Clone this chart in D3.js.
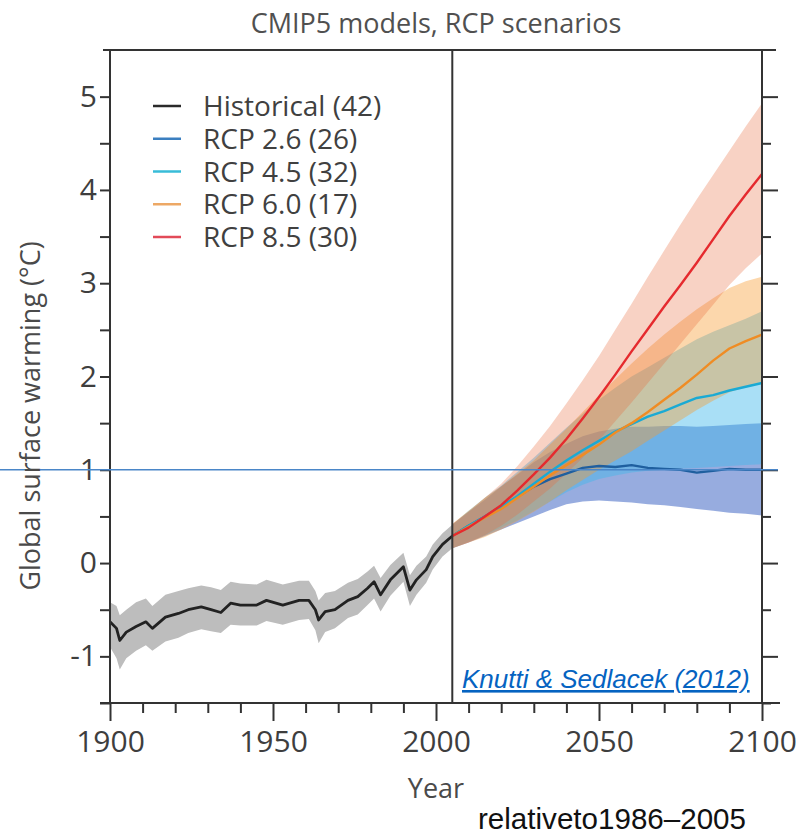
<!DOCTYPE html>
<html>
<head>
<meta charset="utf-8">
<script src="https://cdn.jsdelivr.net/npm/d3@7"></script>
<style>
  html, body { margin: 0; padding: 0; background: #fff; }
  svg { display: block; font-family: "Open Sans", sans-serif; }
</style>
</head>
<body>
<svg id="chart" width="798" height="837"></svg>
<script>
// ---- Historical multi-model mean and spread (°C, relative to 1986–2005) ----
const histYears = [1900, 1902, 1903, 1905, 1908, 1911, 1913, 1917, 1921, 1924, 1928, 1931, 1934, 1937, 1940,
  1945, 1948, 1953, 1958, 1961, 1963, 1964, 1966, 1969, 1973, 1976, 1979, 1981, 1983, 1986, 1990, 1992,
  1994, 1997, 1999, 2002, 2005];
const histMean = [-0.63, -0.70, -0.83, -0.74, -0.68, -0.63, -0.70, -0.58, -0.54, -0.50, -0.47, -0.50, -0.53, -0.43, -0.45,
  -0.45, -0.40, -0.45, -0.40, -0.40, -0.50, -0.61, -0.52, -0.50, -0.40, -0.36, -0.27, -0.20, -0.34, -0.18, -0.04, -0.29,
  -0.18, -0.07, 0.07, 0.20, 0.29];
const histLow = [-0.90, -1.02, -1.14, -1.02, -0.94, -0.88, -0.94, -0.84, -0.80, -0.75, -0.71, -0.73, -0.75, -0.66, -0.67,
  -0.67, -0.62, -0.66, -0.61, -0.60, -0.72, -0.86, -0.74, -0.70, -0.59, -0.55, -0.45, -0.38, -0.52, -0.35, -0.20, -0.46,
  -0.34, -0.21, -0.07, 0.07, 0.16];
const histHigh = [-0.42, -0.46, -0.56, -0.50, -0.42, -0.38, -0.46, -0.34, -0.30, -0.27, -0.24, -0.26, -0.29, -0.20, -0.22,
  -0.23, -0.18, -0.23, -0.19, -0.19, -0.30, -0.40, -0.32, -0.30, -0.21, -0.17, -0.09, -0.03, -0.16, -0.02, 0.11, -0.13,
  -0.03, 0.07, 0.20, 0.32, 0.41];

// ---- RCP scenario projections, 2005–2100 ----
const rcpYears = [2005, 2010, 2015, 2020, 2025, 2030, 2035, 2040, 2045, 2050, 2055, 2060, 2065, 2070, 2075, 2080, 2085, 2090, 2095, 2100];

const rcp26Mean = [0.29, 0.40, 0.50, 0.61, 0.71, 0.82, 0.90, 0.96, 1.02, 1.04, 1.03, 1.05, 1.02, 1.01, 1.00, 0.97, 0.99, 1.01, 1.00, 1.00];
const rcp26Low  = [0.16, 0.22, 0.29, 0.36, 0.43, 0.50, 0.57, 0.63, 0.66, 0.67, 0.66, 0.65, 0.63, 0.62, 0.60, 0.58, 0.56, 0.54, 0.53, 0.51];
const rcp26High = [0.41, 0.55, 0.68, 0.82, 0.95, 1.08, 1.19, 1.28, 1.36, 1.41, 1.44, 1.46, 1.46, 1.47, 1.47, 1.46, 1.47, 1.48, 1.49, 1.50];

const rcp45Mean = [0.29, 0.40, 0.50, 0.60, 0.72, 0.85, 0.98, 1.10, 1.21, 1.31, 1.41, 1.49, 1.57, 1.63, 1.70, 1.77, 1.80, 1.85, 1.89, 1.93];
const rcp45Low  = [0.16, 0.23, 0.30, 0.38, 0.46, 0.56, 0.66, 0.76, 0.84, 0.90, 0.94, 0.97, 0.99, 1.00, 1.01, 1.02, 1.03, 1.04, 1.05, 1.06];
const rcp45High = [0.41, 0.56, 0.70, 0.83, 0.98, 1.13, 1.29, 1.45, 1.60, 1.75, 1.88, 2.00, 2.10, 2.20, 2.30, 2.40, 2.48, 2.55, 2.62, 2.70];

const rcp60Mean = [0.29, 0.39, 0.49, 0.58, 0.70, 0.82, 0.94, 1.05, 1.16, 1.27, 1.40, 1.50, 1.62, 1.75, 1.88, 2.02, 2.17, 2.30, 2.38, 2.45];
const rcp60Low  = [0.16, 0.22, 0.28, 0.36, 0.45, 0.55, 0.66, 0.78, 0.89, 1.00, 1.10, 1.20, 1.31, 1.42, 1.53, 1.64, 1.74, 1.83, 1.89, 1.94];
const rcp60High = [0.42, 0.56, 0.70, 0.82, 0.96, 1.10, 1.27, 1.44, 1.62, 1.80, 1.97, 2.14, 2.30, 2.45, 2.59, 2.72, 2.84, 2.95, 3.02, 3.07];

const rcp85Mean = [0.29, 0.38, 0.50, 0.62, 0.78, 0.95, 1.13, 1.33, 1.55, 1.78, 2.02, 2.27, 2.51, 2.75, 2.98, 3.22, 3.47, 3.72, 3.95, 4.17];
const rcp85Low  = [0.16, 0.22, 0.30, 0.40, 0.52, 0.66, 0.80, 0.96, 1.13, 1.32, 1.52, 1.72, 1.93, 2.14, 2.35, 2.56, 2.77, 2.98, 3.16, 3.32];
const rcp85High = [0.42, 0.55, 0.70, 0.85, 1.04, 1.25, 1.47, 1.71, 1.96, 2.22, 2.50, 2.78, 3.07, 3.35, 3.63, 3.90, 4.16, 4.42, 4.68, 4.93];

// ---- Labels and ticks ----
const legendLabels = ["Historical (42)", "RCP 2.6 (26)", "RCP 4.5 (32)", "RCP 6.0 (17)", "RCP 8.5 (30)"];
const xMajorTicks = [1900, 1950, 2000, 2050, 2100];
const xMinorTicks = [1910, 1920, 1930, 1940, 1960, 1970, 1980, 1990, 2010, 2020, 2030, 2040, 2060, 2070, 2080, 2090];
const yMajorTicks = [-1, 0, 1, 2, 3, 4, 5];
const yMinorTicks = [-1.5, -0.5, 0.5, 1.5, 2.5, 3.5, 4.5];
const yTickLabels = ["-1", "0", "1", "2", "3", "4", "5"];
const scenarioStartYear = 2005;
const referenceLevel = 1;

const titleText = "CMIP5 models, RCP scenarios";
const xAxisTitle = "Year";
const yAxisTitle = "Global surface warming (°C)";
const citationText = "Knutti & Sedlacek (2012)";
const baselineNote = "relativeto1986–2005";

// ---- Styling ----
const lineColors = ["#222222", "#1f5f9f", "#1aaad4", "#ef8c24", "#e52a2e"];
const legendColors = ["#2a2a2a", "#3b7fc0", "#38bcd8", "#eda865", "#e24a58"];
const bandColors = ["#bdbdbd", "#1848b8", "#40b8ec", "#f79a30", "#e86a3a"];
const bandOpacities = [1, 0.45, 0.45, 0.4, 0.3];

// ---- Layout ----
const svg = d3.select("#chart");
const plotLeft = 110, plotRight = 762, plotTop = 50, plotBottom = 703;

const x = d3.scaleLinear().domain([1900, 2100]).range([plotLeft, plotRight]);
const y = d3.scaleLinear().domain([-1.5, 5.5]).range([plotBottom, plotTop]);

const plot = svg.append("g");

// historical spread
const histRows = histYears.map((yr, i) => ({ yr, m: histMean[i], lo: histLow[i], hi: histHigh[i] }));
const area = d3.area().x(d => x(d.yr)).y0(d => y(d.lo)).y1(d => y(d.hi));
const line = d3.line().x(d => x(d.yr)).y(d => y(d.m));

plot.append("path").datum(histRows).attr("d", area).attr("fill", bandColors[0]);

// scenario spreads: RCP 2.6 at the bottom of the stack, RCP 8.5 on top
const scenarios = [
  { mean: rcp26Mean, lo: rcp26Low, hi: rcp26High, idx: 1 },
  { mean: rcp45Mean, lo: rcp45Low, hi: rcp45High, idx: 2 },
  { mean: rcp60Mean, lo: rcp60Low, hi: rcp60High, idx: 3 },
  { mean: rcp85Mean, lo: rcp85Low, hi: rcp85High, idx: 4 }
].map(s => ({ ...s, rows: rcpYears.map((yr, i) => ({ yr, m: s.mean[i], lo: s.lo[i], hi: s.hi[i] })) }));

plot.selectAll("path.band").data(scenarios).join("path")
  .attr("class", "band")
  .attr("d", s => area(s.rows))
  .attr("fill", s => bandColors[s.idx])
  .attr("fill-opacity", s => bandOpacities[s.idx]);

plot.selectAll("path.mean").data(scenarios).join("path")
  .attr("class", "mean")
  .attr("d", s => line(s.rows))
  .attr("fill", "none")
  .attr("stroke", s => lineColors[s.idx])
  .attr("stroke-width", 2.4)
  .attr("stroke-linejoin", "round");

plot.append("path").datum(histRows).attr("d", line)
  .attr("fill", "none").attr("stroke", lineColors[0])
  .attr("stroke-width", 2.8).attr("stroke-linejoin", "round");

// ---- Frame and axes ----
const axisColor = "#333";
const frame = svg.append("g").attr("stroke", axisColor).attr("stroke-width", 2);
frame.append("line").attr("x1", plotLeft - 7).attr("x2", plotRight + 14).attr("y1", plotTop).attr("y2", plotTop);
frame.append("line").attr("x1", plotLeft - 10).attr("x2", plotRight + 18).attr("y1", plotBottom).attr("y2", plotBottom);
frame.append("line").attr("x1", plotLeft).attr("x2", plotLeft).attr("y1", plotTop).attr("y2", plotBottom);
frame.append("line").attr("x1", plotRight).attr("x2", plotRight).attr("y1", plotTop).attr("y2", plotBottom);
frame.append("line").attr("x1", x(scenarioStartYear)).attr("x2", x(scenarioStartYear)).attr("y1", plotTop).attr("y2", plotBottom);

function styleAxis(g) {
  g.select(".domain").remove();
  g.selectAll(".tick line").attr("stroke", axisColor).attr("stroke-width", 2);
  g.selectAll(".tick text").attr("fill", "#3e3e3e").attr("font-size", 30)
    .attr("font-family", "'Open Sans', sans-serif");
}

svg.append("g").attr("transform", `translate(0,${plotBottom})`)
  .call(d3.axisBottom(x).tickValues(xMinorTicks).tickSize(10).tickFormat(""))
  .call(styleAxis);
svg.append("g").attr("transform", `translate(0,${plotBottom})`)
  .call(d3.axisBottom(x).tickValues(xMajorTicks).tickSize(18).tickPadding(8).tickFormat(d3.format("d")))
  .call(styleAxis)
  .call(g => g.selectAll(".tick text").attr("dy", "0.77em"));

svg.append("g").attr("transform", `translate(${plotLeft},0)`)
  .call(d3.axisLeft(y).tickValues(yMinorTicks).tickSize(10).tickFormat(""))
  .call(styleAxis);
svg.append("g").attr("transform", `translate(${plotLeft},0)`)
  .call(d3.axisLeft(y).tickValues(yMajorTicks).tickSize(10).tickPadding(3)
    .tickFormat((d, i) => yTickLabels[i]))
  .call(styleAxis);

svg.append("g").attr("transform", `translate(${plotRight},0)`)
  .call(d3.axisRight(y).tickValues(yMinorTicks).tickSize(9).tickFormat(""))
  .call(styleAxis);
svg.append("g").attr("transform", `translate(${plotRight},0)`)
  .call(d3.axisRight(y).tickValues(yMajorTicks).tickSize(16).tickFormat(""))
  .call(styleAxis);

// reference line at +1 °C across the panel
svg.append("line")
  .attr("x1", 0).attr("x2", plotRight + 16)
  .attr("y1", y(referenceLevel)).attr("y2", y(referenceLevel))
  .attr("stroke", "#4a86c8").attr("stroke-width", 1.5);

// ---- Titles ----
svg.append("text").attr("x", 436).attr("y", 33).attr("text-anchor", "middle")
  .attr("font-size", 27).attr("fill", "#505050").text(titleText);

svg.append("text").attr("x", (plotLeft + plotRight) / 2).attr("y", 798).attr("text-anchor", "middle")
  .attr("font-size", 27).attr("fill", "#4a4a4a").text(xAxisTitle);

svg.append("text").attr("transform", "translate(40,416) rotate(-90)").attr("text-anchor", "middle")
  .attr("font-size", 27).attr("fill", "#4a4a4a").text(yAxisTitle);

// ---- Legend ----
const legend = svg.append("g");
const legendRowY = d3.scaleLinear().domain([0, 4]).range([106, 237]);
legendLabels.forEach((lab, i) => {
  const cy = legendRowY(i);
  legend.append("line").attr("x1", 153).attr("x2", 181).attr("y1", cy).attr("y2", cy)
    .attr("stroke", legendColors[i]).attr("stroke-width", 2.5);
  legend.append("text").attr("x", 203).attr("y", cy + 10)
    .attr("font-size", 28).attr("fill", "#404040").text(lab);
});

// ---- Source and baseline note ----
svg.append("text").attr("x", 462).attr("y", 688)
  .attr("font-family", "'Liberation Sans', Arial, sans-serif").attr("font-style", "italic")
  .attr("font-size", 26).attr("fill", "#0563c1").attr("text-decoration", "underline")
  .text(citationText);

svg.append("text").attr("x", 478).attr("y", 829)
  .attr("font-family", "'Liberation Sans', Arial, sans-serif")
  .attr("font-size", 30).attr("fill", "#111").attr("textLength", 268).attr("lengthAdjust", "spacingAndGlyphs")
  .text(baselineNote);
</script>
</body>
</html>
